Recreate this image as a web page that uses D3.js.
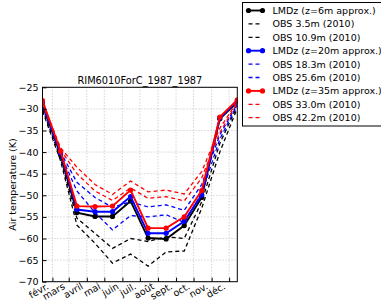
<!DOCTYPE html>
<html>
<head>
<meta charset="utf-8">
<script src="https://cdn.jsdelivr.net/npm/d3@7"></script>
<style>
  body { margin: 0; background: #fff; }
  text { font-family: "DejaVu Sans", sans-serif; fill: #000; }
</style>
</head>
<body>
<div class="grafico"></div>
<script>
// valori mensili (gen -> dic)
var mesiTick = ["févr.", "mars", "avril", "mai", "juin", "juil.", "août", "sept.", "oct.", "nov.", "déc."];
var yTicks = [-25, -30, -35, -40, -45, -50, -55, -60, -65, -70];

var lmdz6  = [-29.0, -40.6, -54.0, -54.9, -54.9, -51.3, -59.9, -60.1, -57.0, -50.5, -32.3, -28.4];
var obs35  = [-30.5, -42.0, -56.9, -61.1, -65.7, -63.6, -66.4, -63.1, -62.9, -53.0, -40.0, -29.8];
var obs109 = [-30.0, -41.5, -55.3, -58.8, -62.3, -60.0, -60.7, -59.6, -60.0, -51.5, -38.0, -29.3];
var lmdz20 = [-28.6, -40.2, -53.3, -53.8, -53.8, -50.3, -58.8, -58.8, -56.0, -49.9, -32.1, -28.2];
var obs183 = [-29.5, -40.5, -49.0, -54.0, -58.0, -54.7, -55.0, -54.5, -56.3, -49.5, -37.0, -29.0];
var obs256 = [-29.2, -40.0, -47.0, -50.5, -52.8, -51.5, -52.7, -52.2, -53.5, -47.5, -36.0, -28.8];
var lmdz35 = [-28.1, -39.8, -52.5, -52.6, -52.5, -48.8, -57.6, -57.6, -55.0, -48.9, -31.9, -27.9];
var obs330 = [-28.8, -39.5, -45.0, -49.0, -51.2, -48.3, -50.7, -50.3, -51.3, -46.0, -35.5, -28.5];
var obs422 = [-28.5, -39.0, -43.5, -47.5, -49.8, -46.7, -49.2, -48.8, -49.7, -44.5, -34.5, -28.3];

var w = 381,
    h = 302;

var svg = d3.select(".grafico")
  .append("svg")
  .attr("width", w)
  .attr("height", h);

var date = d3.range(12).map(function (i) { return new Date(1987, i, 15); });
var dateTick = d3.range(1, 12).map(function (i) { return new Date(1987, i, 1); });

var x = d3.scaleTime()
  .domain([date[0], date[11]])
  .range([42.5, 237.3]);

var y = d3.scaleLinear()
  .domain([-70, -25])
  .range([281.7, 87.3]);

// serie nell'ordine della legenda
var serie = [
  { nome: "LMDz (z=6m approx.)", val: lmdz6, col: "#000000", tratt: false },
  { nome: "OBS 3.5m (2010)", val: obs35, col: "#000000", tratt: true },
  { nome: "OBS 10.9m (2010)", val: obs109, col: "#000000", tratt: true },
  { nome: "LMDz (z=20m approx.)", val: lmdz20, col: "#0000ff", tratt: false },
  { nome: "OBS 18.3m (2010)", val: obs183, col: "#0000ff", tratt: true },
  { nome: "OBS 25.6m (2010)", val: obs256, col: "#0000ff", tratt: true },
  { nome: "LMDz (z=35m approx.)", val: lmdz35, col: "#ff0000", tratt: false },
  { nome: "OBS 33.0m (2010)", val: obs330, col: "#ff0000", tratt: true },
  { nome: "OBS 42.2m (2010)", val: obs422, col: "#ff0000", tratt: true }
];

// griglia
svg.append("g")
  .selectAll("line")
  .data(dateTick)
  .enter().append("line")
  .attr("x1", function (d) { return x(d); })
  .attr("x2", function (d) { return x(d); })
  .attr("y1", y(-25))
  .attr("y2", y(-70))
  .attr("stroke", "#b0b0b0")
  .attr("stroke-width", 0.8)
  .attr("stroke-dasharray", "1,2");

svg.append("g")
  .selectAll("line")
  .data(yTicks)
  .enter().append("line")
  .attr("x1", x(date[0]))
  .attr("x2", x(date[11]))
  .attr("y1", function (d) { return y(d); })
  .attr("y2", function (d) { return y(d); })
  .attr("stroke", "#b0b0b0")
  .attr("stroke-width", 0.8)
  .attr("stroke-dasharray", "1,2");

var linea = d3.line()
  .x(function (d, i) { return x(date[i]); })
  .y(function (d) { return y(d); });

svg.append("clipPath").attr("id", "area")
  .append("rect")
  .attr("x", x(date[0]))
  .attr("y", y(-25))
  .attr("width", x(date[11]) - x(date[0]))
  .attr("height", y(-70) - y(-25));

var gLinee = svg.append("g").attr("clip-path", "url(#area)");

serie.forEach(function (s) {
  gLinee.append("path")
    .attr("d", linea(s.val))
    .attr("fill", "none")
    .attr("stroke", s.col)
    .attr("stroke-width", s.tratt ? 1.3 : 1.9)
    .attr("stroke-dasharray", s.tratt ? "4,3" : null);
  if (!s.tratt) {
    gLinee.selectAll(null)
      .data(s.val)
      .enter().append("circle")
      .attr("cx", function (d, i) { return x(date[i]); })
      .attr("cy", function (d) { return y(d); })
      .attr("r", 2.6)
      .attr("fill", s.col);
  }
});

// assi
svg.append("rect")
  .attr("x", x(date[0]))
  .attr("y", y(-25))
  .attr("width", x(date[11]) - x(date[0]))
  .attr("height", y(-70) - y(-25))
  .attr("fill", "none")
  .attr("stroke", "#000")
  .attr("stroke-width", 1);

var assey = svg.append("g")
  .attr("transform", "translate(" + x(date[0]) + ",0)")
  .call(d3.axisLeft(y).tickValues(yTicks).tickSize(-4).tickPadding(4)
    .tickFormat(function (d) { return String(d).replace("-", "\u2212"); }));
assey.select(".domain").remove();
assey.selectAll("text").attr("font-size", "9.5px").attr("font-family", "DejaVu Sans");

var assex = svg.append("g")
  .attr("transform", "translate(0," + y(-70) + ")")
  .call(d3.axisBottom(x).tickValues(dateTick).tickSize(-4).tickFormat(""));
assex.select(".domain").remove();

svg.append("g")
  .selectAll("text")
  .data(dateTick)
  .enter().append("text")
  .attr("transform", function (d) { return "translate(" + (x(d) - 3) + "," + (y(-70) + 6.5) + ") rotate(-30)"; })
  .attr("text-anchor", "end")
  .attr("font-size", "9.5px")
  .text(function (d, i) { return mesiTick[i]; });

svg.append("text")
  .attr("transform", "translate(16," + (y(-47.5)) + ") rotate(-90)")
  .attr("text-anchor", "middle")
  .attr("font-size", "9.5px")
  .text("Air temperature (K)");

svg.append("text")
  .attr("x", (x(date[0]) + x(date[11])) / 2)
  .attr("y", 84)
  .attr("text-anchor", "middle")
  .attr("font-size", "9.8px")
  .text("RIM6010ForC_1987_1987");

// legenda
var leg = svg.append("g");
leg.append("rect")
  .attr("x", 242.5)
  .attr("y", 2.5)
  .attr("width", 160)
  .attr("height", 123.5)
  .attr("fill", "#fff")
  .attr("stroke", "#000")
  .attr("stroke-width", 1);

serie.forEach(function (s, i) {
  var yy = 10.5 + i * 13.4;
  leg.append("line")
    .attr("x1", 248.5).attr("x2", 262.5)
    .attr("y1", yy).attr("y2", yy)
    .attr("stroke", s.col)
    .attr("stroke-width", s.tratt ? 1.3 : 1.9)
    .attr("stroke-dasharray", s.tratt ? "4,3" : null);
  if (!s.tratt) {
    [248.5, 262.5].forEach(function (xx) {
      leg.append("circle").attr("cx", xx).attr("cy", yy).attr("r", 2.6).attr("fill", s.col);
    });
  }
  leg.append("text")
    .attr("x", 272.5)
    .attr("y", yy + 3.5)
    .attr("font-size", "9.5px")
    .text(s.nome);
});
</script>
</body>
</html>
